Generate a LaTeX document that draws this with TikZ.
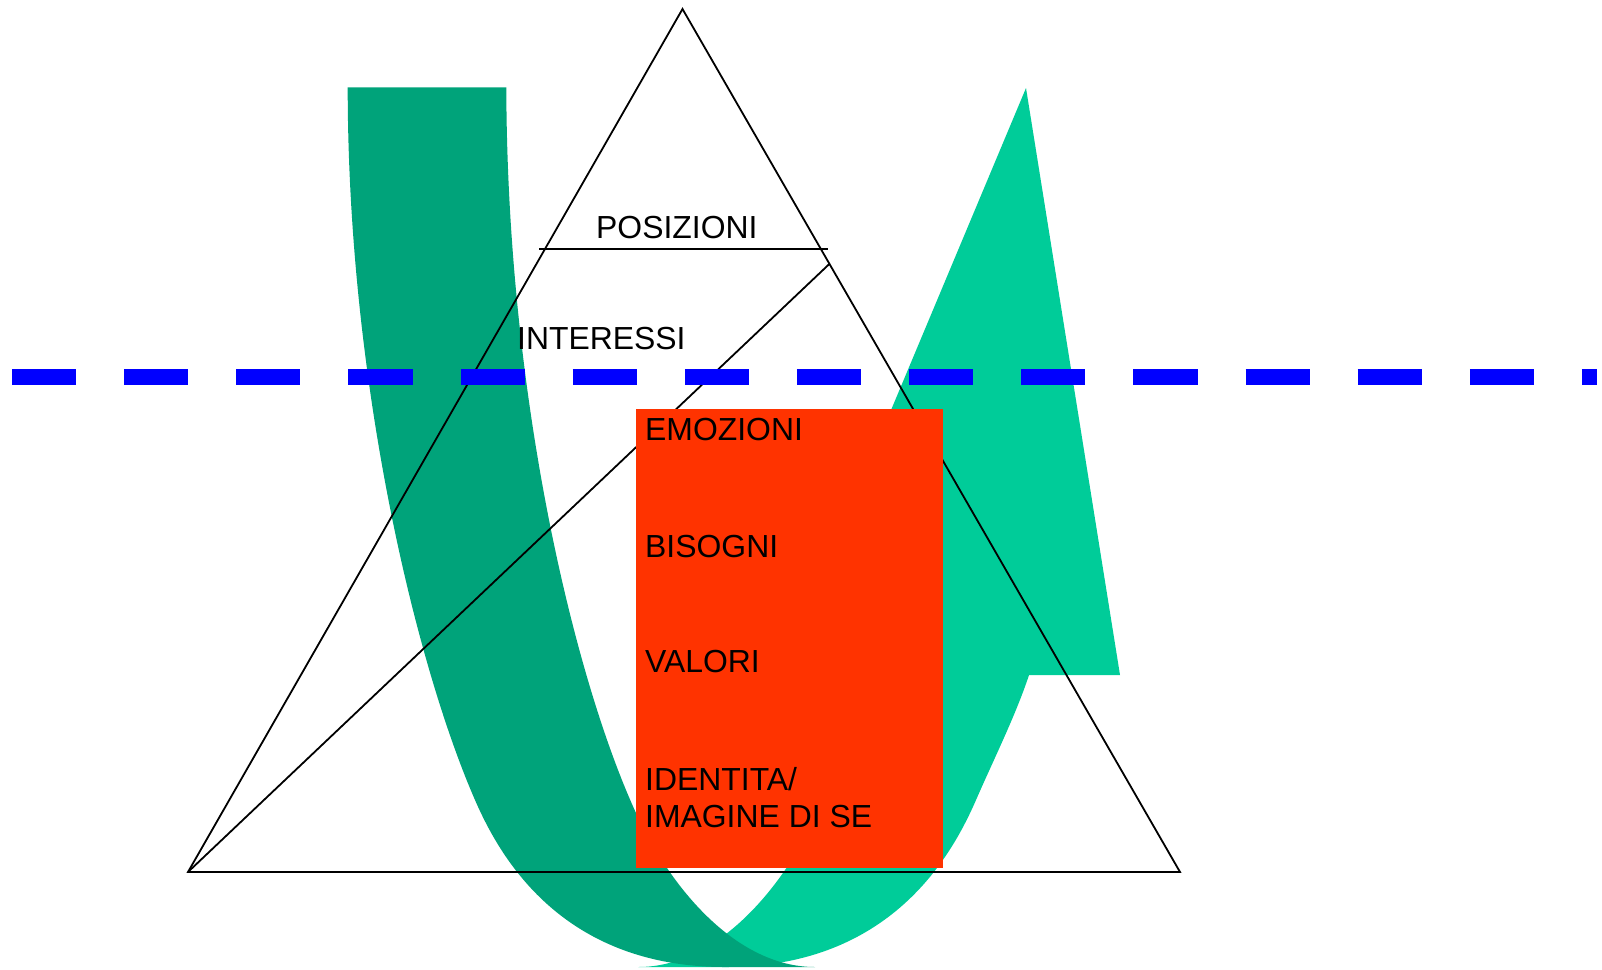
\documentclass[tikz,border=0pt]{standalone}
\usepackage{fontspec}
\setmainfont{Liberation Sans}
\definecolor{gdark}{RGB}{0,163,122}
\definecolor{glight}{RGB}{0,204,153}
\definecolor{redbox}{RGB}{255,51,0}
\definecolor{bluedash}{RGB}{0,0,255}
\tikzset{
  lbl/.style={anchor=base west, inner sep=0pt, font=\fontsize{31.9}{38}\selectfont},
  thinline/.style={line width=1.8pt, draw=black},
  bluedashed/.style={line width=16pt, draw=bluedash, dash pattern=on 64.1pt off 48.04pt}
}
\begin{document}
\begin{tikzpicture}[x=1pt,y=-1pt]
\useasboundingbox (0,0) rectangle (1602,969);
% light green (ascending part with arrowhead)
\fill[glight] (1029,675) -- (1120,675) -- (1026,88) -- (780,675) -- (868,675)
  -- (817.4,813) .. controls (784,885.7) and (718.4,967) .. (638.4,967)
  -- (726,967) .. controls (891,967) and (952,855) .. (976,800)
  .. controls (994,758.7) and (1015.8,715) .. (1029,675) -- cycle;
% dark green (descending part)
\fill[gdark] (347.7,87.3) -- (506.3,87.3)
  .. controls (507,400) and (575,680) .. (636,813)
  .. controls (669.4,885.7) and (735,967) .. (815,967)
  -- (725,967) .. controls (560,967) and (499,855) .. (475,800)
  .. controls (415,662.5) and (347.7,380) .. (347.7,87.3) -- cycle;
% triangle
\coordinate (apex) at (682.5,9);
\coordinate (bl) at (188,872);
\coordinate (br) at (1180,872);
\coordinate (hl) at (539,249);
\coordinate (hr) at (828,249);
\coordinate (dtop) at (829.3,264);
\draw[thinline, line join=miter] (bl) -- (apex) -- (br) -- cycle;
\draw[thinline] (hl) -- (hr);
\draw[thinline] (dtop) -- (bl);
% dashed blue line
\coordinate (dl) at (12,376.7);
\coordinate (dr) at (1597,376.7);
\draw[bluedashed] (dl) -- (dr);
% red box
\fill[redbox] (636,409) rectangle (942.5,867.7);
% labels
\node[lbl] (pos) at (596,238.7) {POSIZIONI};
\node[lbl] (int) at (517,349) {INTERESSI};
\node[lbl] (emo) at (645,440) {EMOZIONI};
\node[lbl] (bis) at (645,557) {BISOGNI};
\node[lbl] (val) at (645,672.7) {VALORI};
\node[lbl] (ide) at (645,790) {IDENTITA/};
\node[lbl] (ima) at (645,827.3) {IMAGINE DI SE};
\end{tikzpicture}
\end{document}
